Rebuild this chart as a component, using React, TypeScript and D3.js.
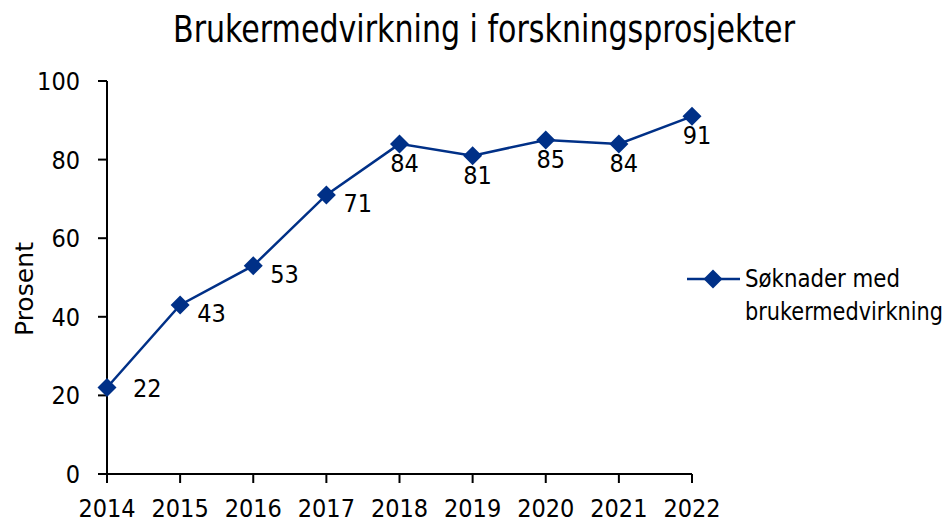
import React from "react";
import * as d3 from "d3";

const years = ["2014", "2015", "2016", "2017", "2018", "2019", "2020", "2021", "2022"];
const values = [22, 43, 53, 71, 84, 81, 85, 84, 91];
const labelPos = ["right", "right", "right", "right", "below", "below", "below", "below", "below"];
const yTicks = [0, 20, 40, 60, 80, 100];
const title = "Brukermedvirkning i forskningsprosjekter";
const yTitle = "Prosent";
const legendLines = ["Søknader med", "brukermedvirkning"];

const W = 952;
const H = 523;
const color = "#003087";
const font = "'DejaVu Sans Condensed', 'Liberation Sans Narrow', sans-serif";

export default function App() {
  const x = d3.scalePoint<string>().domain(years).range([107, 692]);
  const y = d3.scaleLinear().domain([0, 100]).range([474, 81]);
  const line = d3
    .line<number>()
    .x((_, i) => x(years[i]) as number)
    .y((d) => y(d));
  const diamond = (cx: number, cy: number, r = 9.5) =>
    `M${cx},${cy - r}L${cx + r},${cy}L${cx},${cy + r}L${cx - r},${cy}Z`;

  return (
    <svg width={W} height={H} style={{ position: "absolute", left: 0, top: 0, background: "#fff" }}>
      <rect width={W} height={H} fill="#fff" />
      <text
        x={484}
        y={42}
        textAnchor="middle"
        fontFamily={font}
        fontSize={37}
        textLength={622}
        lengthAdjust="spacingAndGlyphs"
        fill="#000"
      >
        {title}
      </text>
      {/* y axis */}
      <line x1={107} x2={107} y1={y(100)} y2={y(0)} stroke="#000" strokeWidth={2} />
      {yTicks.map((t) => (
        <g key={t}>
          <line x1={98} x2={107} y1={y(t)} y2={y(t)} stroke="#000" strokeWidth={2} />
          <text x={80} y={y(t)} dy="0.36em" textAnchor="end" fontFamily={font} fontSize={25}>
            {t}
          </text>
        </g>
      ))}
      {/* x axis */}
      <line x1={98} x2={692} y1={y(0)} y2={y(0)} stroke="#000" strokeWidth={2} />
      {years.map((yr) => (
        <g key={yr}>
          <line x1={x(yr)} x2={x(yr)} y1={y(0)} y2={y(0) + 9} stroke="#000" strokeWidth={2} />
          <text x={x(yr)} y={517} textAnchor="middle" fontFamily={font} fontSize={25}>
            {yr}
          </text>
        </g>
      ))}
      <text
        transform={`translate(33,${289}) rotate(-90)`}
        textAnchor="middle"
        fontFamily={font}
        fontSize={25}
        textLength={94}
        lengthAdjust="spacingAndGlyphs"
      >
        {yTitle}
      </text>
      <path d={line(values) as string} fill="none" stroke={color} strokeWidth={2.5} />
      {values.map((v, i) => {
        const cx = x(years[i]) as number;
        const cy = y(v);
        const right = labelPos[i] === "right";
        const lx = right ? cx + (i === 0 ? 26 : 17) : cx + 5;
        const ly = right ? cy + (i === 0 ? 0 : 8) : cy + 19;
        return (
          <g key={i}>
            <path d={diamond(cx, cy)} fill={color} />
            <text
              x={lx}
              y={ly}
              dy="0.36em"
              textAnchor={right ? "start" : "middle"}
              fontFamily={font}
              fontSize={25}
            >
              {v}
            </text>
          </g>
        );
      })}
      {/* legend */}
      <line x1={687} x2={740} y1={279} y2={279} stroke={color} strokeWidth={2.5} />
      <path d={diamond(713, 279)} fill={color} />
      <g transform="translate(745,287) scale(1,1.1)">
        <text x={0} y={0} fontFamily={font} fontSize={22.5} textLength={155} lengthAdjust="spacingAndGlyphs">
          {legendLines[0]}
        </text>
      </g>
      <g transform="translate(745,320) scale(1,1.1)">
        <text x={0} y={0} fontFamily={font} fontSize={22.5} textLength={198} lengthAdjust="spacingAndGlyphs">
          {legendLines[1]}
        </text>
      </g>
    </svg>
  );
}
